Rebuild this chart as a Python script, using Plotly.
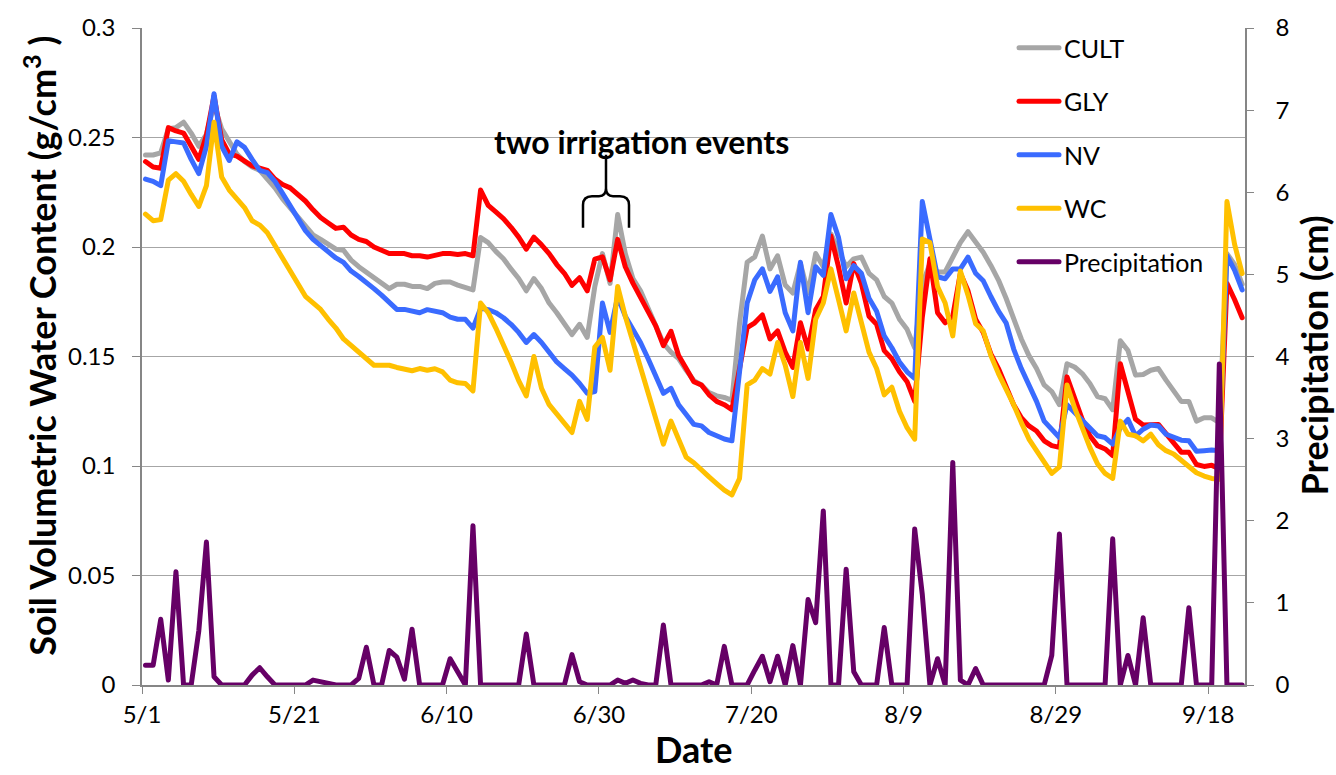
import pandas as pd
import plotly.graph_objects as go

# ---------------- data (daily readings, 5/1 .. 9/22) ----------------
dates = pd.date_range("2013-05-01 11:00", periods=145, freq="D")

cult = [0.242, 0.242, 0.243, 0.254, 0.2545, 0.257, 0.252, 0.246, 0.2515, 0.265,
        0.254, 0.248, 0.2425, 0.239, 0.2365, 0.235, 0.231, 0.227, 0.222, 0.218,
        0.2135, 0.2095, 0.2055, 0.2035, 0.201, 0.199, 0.1985, 0.194, 0.191, 0.1885,
        0.1855, 0.1835, 0.181, 0.183, 0.183, 0.182, 0.182, 0.181, 0.1834, 0.184,
        0.184, 0.1826, 0.1816, 0.1804, 0.2043, 0.202, 0.198, 0.1946, 0.190, 0.1856,
        0.180, 0.1856, 0.181, 0.1744, 0.170, 0.1654, 0.160, 0.1647, 0.1587, 0.182,
        0.197, 0.1834, 0.2148, 0.197, 0.1856, 0.180, 0.172, 0.164, 0.156, 0.152,
        0.149, 0.1437, 0.139, 0.137, 0.1335, 0.132, 0.1313, 0.130, 0.165, 0.193,
        0.1955, 0.205, 0.190, 0.196, 0.1826, 0.179, 0.1924, 0.179, 0.197, 0.191,
        0.206, 0.1984, 0.191, 0.1946, 0.1954, 0.188, 0.185, 0.1774, 0.1744, 0.167,
        0.1624, 0.154, 0.183, 0.1924, 0.1886, 0.1886, 0.1954, 0.202, 0.207, 0.202,
        0.1976, 0.1916, 0.1849, 0.1766, 0.1669, 0.158, 0.1504, 0.1445, 0.137, 0.134,
        0.128, 0.1467, 0.1452, 0.1422, 0.1377, 0.1317, 0.1307, 0.1257, 0.1572, 0.1527,
        0.1415, 0.1418, 0.1437, 0.1445, 0.1392, 0.134, 0.1295, 0.1295, 0.1205, 0.122,
        0.122, 0.1198, 0.197, 0.192, 0.183]

gly = [0.239, 0.2365, 0.236, 0.2545, 0.253, 0.252, 0.246, 0.240, 0.251, 0.269,
       0.249, 0.2425, 0.2415, 0.239, 0.237, 0.236, 0.235, 0.231, 0.2285, 0.227,
       0.224, 0.221, 0.217, 0.2135, 0.211, 0.2085, 0.209, 0.2055, 0.2035, 0.2025,
       0.200, 0.1985, 0.197, 0.197, 0.197, 0.196, 0.196, 0.1954, 0.196, 0.197,
       0.197, 0.1966, 0.197, 0.196, 0.226, 0.219, 0.216, 0.213, 0.209, 0.2045,
       0.199, 0.2045, 0.201, 0.197, 0.192, 0.188, 0.1825, 0.186, 0.180, 0.1945,
       0.1955, 0.185, 0.2035, 0.191, 0.1835, 0.1775, 0.1705, 0.164, 0.155, 0.1615,
       0.1505, 0.1445, 0.1385, 0.137, 0.1325, 0.1295, 0.128, 0.1257, 0.1445, 0.1632,
       0.1654, 0.169, 0.158, 0.1617, 0.152, 0.145, 0.1654, 0.1534, 0.1714, 0.1774,
       0.205, 0.1909, 0.1744, 0.1924, 0.1834, 0.1684, 0.1647, 0.1527, 0.149, 0.143,
       0.1385, 0.1295, 0.168, 0.1946, 0.170, 0.1654, 0.1684, 0.188, 0.180, 0.167,
       0.161, 0.1512, 0.1445, 0.1355, 0.128, 0.122, 0.1183, 0.116, 0.1115, 0.1093,
       0.1085, 0.1407, 0.131, 0.1213, 0.1138, 0.1093, 0.1078, 0.1048, 0.1467, 0.1332,
       0.1213, 0.1187, 0.119, 0.119, 0.1148, 0.1108, 0.1063, 0.1063, 0.1007, 0.0998,
       0.1003, 0.0988, 0.1834, 0.176, 0.1677]

nv = [0.231, 0.230, 0.228, 0.2485, 0.248, 0.2475, 0.240, 0.2335, 0.246, 0.270,
      0.246, 0.2395, 0.248, 0.2455, 0.240, 0.235, 0.234, 0.230, 0.2245, 0.219,
      0.2135, 0.2075, 0.2035, 0.2005, 0.1975, 0.195, 0.193, 0.189, 0.1865, 0.184,
      0.181, 0.178, 0.1745, 0.1715, 0.1715, 0.1705, 0.170, 0.1714, 0.1707, 0.170,
      0.168, 0.167, 0.167, 0.163, 0.172, 0.1714, 0.170, 0.1677, 0.1647, 0.161,
      0.1564, 0.160, 0.1564, 0.152, 0.1475, 0.1445, 0.1415, 0.1377, 0.1332, 0.134,
      0.1744, 0.161, 0.1774, 0.1684, 0.1624, 0.1564, 0.149, 0.1415, 0.1332, 0.1355,
      0.128, 0.1235, 0.119, 0.1183, 0.1153, 0.1138, 0.1123, 0.1115, 0.145, 0.1744,
      0.185, 0.190, 0.1797, 0.1864, 0.170, 0.1617, 0.193, 0.170, 0.191, 0.187,
      0.2148, 0.2043, 0.1855, 0.1915, 0.188, 0.1766, 0.1707, 0.1594, 0.154, 0.1475,
      0.143, 0.140, 0.2208, 0.2043, 0.1864, 0.1855, 0.190, 0.190, 0.1954, 0.188,
      0.1846, 0.1774, 0.1707, 0.1654, 0.1534, 0.1445, 0.137, 0.1295, 0.1205, 0.1168,
      0.113, 0.128, 0.1243, 0.1205, 0.1175, 0.1138, 0.113, 0.110, 0.1175, 0.1213,
      0.1138, 0.1168, 0.1187, 0.1183, 0.1145, 0.113, 0.1118, 0.1115, 0.1067, 0.107,
      0.1073, 0.107, 0.196, 0.1894, 0.1804]

wc = [0.215, 0.212, 0.2125, 0.2305, 0.2335, 0.230, 0.224, 0.2185, 0.228, 0.257,
      0.232, 0.226, 0.222, 0.218, 0.212, 0.210, 0.2065, 0.2005, 0.1945, 0.1885,
      0.1835, 0.1775, 0.1745, 0.1715, 0.167, 0.163, 0.158, 0.155, 0.152, 0.149,
      0.146, 0.146, 0.146, 0.145, 0.1445, 0.1435, 0.1445, 0.1437, 0.1444, 0.143,
      0.1392, 0.138, 0.1377, 0.1343, 0.1744, 0.170, 0.163, 0.1557, 0.1475, 0.139,
      0.132, 0.150, 0.1355, 0.128, 0.1235, 0.119, 0.1153, 0.1295, 0.1213, 0.1543,
      0.1587, 0.1437, 0.182, 0.1684, 0.1564, 0.1445, 0.1325, 0.122, 0.110, 0.1205,
      0.112, 0.104, 0.1015, 0.098, 0.095, 0.092, 0.089, 0.0868, 0.0943, 0.137,
      0.1392, 0.1445, 0.142, 0.1564, 0.146, 0.1317, 0.1564, 0.140, 0.167, 0.1744,
      0.190, 0.176, 0.1617, 0.179, 0.1654, 0.152, 0.1445, 0.1325, 0.136, 0.125,
      0.1175, 0.1123, 0.2036, 0.202, 0.1819, 0.1744, 0.1594, 0.189, 0.178, 0.165,
      0.1617, 0.1504, 0.1422, 0.1355, 0.128, 0.1198, 0.1123, 0.107, 0.1018, 0.0966,
      0.0996, 0.137, 0.1265, 0.1168, 0.1085, 0.101, 0.0966, 0.0943, 0.1205, 0.1145,
      0.1138, 0.1115, 0.1145, 0.1097, 0.107, 0.1055, 0.1025, 0.0996, 0.0969, 0.0954,
      0.0943, 0.094, 0.2208, 0.2013, 0.1879]

precip = [0.24, 0.24, 0.80, 0.06, 1.38, 0, 0, 0.66, 1.74, 0.10,
          0, 0, 0, 0, 0.12, 0.21, 0.10, 0, 0, 0,
          0, 0, 0.06, 0.04, 0.03, 0, 0, 0, 0.08, 0.46,
          0, 0, 0.42, 0.34, 0.07, 0.68, 0, 0, 0, 0,
          0.32, 0.16, 0, 1.94, 0, 0, 0, 0, 0, 0,
          0.62, 0, 0, 0, 0, 0, 0.37, 0.04, 0, 0,
          0, 0, 0.06, 0.02, 0.06, 0.02, 0, 0, 0.73, 0,
          0, 0, 0, 0, 0.04, 0, 0.47, 0, 0, 0,
          0.18, 0.35, 0.04, 0.35, 0, 0.48, 0, 1.04, 0.76, 2.12,
          0, 0, 1.41, 0.16, 0, 0, 0, 0.70, 0, 0,
          0, 1.90, 1.10, 0, 0.32, 0, 2.71, 0.06, 0, 0.20,
          0, 0, 0, 0, 0, 0, 0, 0, 0, 0.36,
          1.84, 0, 0, 0, 0, 0, 0, 1.78, 0, 0.36,
          0, 0.82, 0, 0, 0, 0, 0, 0.94, 0, 0,
          0, 3.91, 0, 0, 0]

series_names = ["CULT", "GLY", "NV", "WC"]
series_values = [cult, gly, nv, wc]
series_colors = ["#A6A6A6", "#FF0000", "#3A6BFF", "#FFC000"]
precip_color = "#660066"

x_tick_labels = ["5/1", "5/21", "6/10", "6/30", "7/20", "8/9", "8/29", "9/18"]

# ---------------- figure ----------------
FONT = "Lato"
fig = go.Figure()
for i, (name, vals, col) in enumerate(zip(series_names, series_values, series_colors)):
    fig.add_trace(go.Scatter(x=dates, y=vals, name=name, mode="lines",
                             line=dict(color=col, width=5), legendgroup=f"g{i}",
                             yaxis="y"))
fig.add_trace(go.Scatter(x=dates, y=precip, name="Precipitation", mode="lines",
                         line=dict(color=precip_color, width=5), legendgroup="g4",
                         yaxis="y2"))

L, R, T, B = 142, 91, 17, 90
W, H = 1336, 775
PW, PH = W - L - R, H - T - B


def pp(x, y):
    """pixel -> paper coordinates (for decorations only)"""
    return (x - L) / PW, (H - B - y) / PH


tick_vals = pd.date_range("2013-05-01", periods=len(x_tick_labels), freq="20D")
TICKFONT = dict(family=FONT, size=24, color="black")

fig.update_layout(
    width=W, height=H,
    margin=dict(l=L, r=R, t=T, b=B),
    paper_bgcolor="white", plot_bgcolor="white",
    font=dict(family=FONT, color="black"),
    showlegend=True,
    legend=dict(x=pp(1014, 0)[0], y=pp(0, 14)[1], xanchor="left", yanchor="top",
                bgcolor="rgba(0,0,0,0)", font=dict(family=FONT, size=25, color="black"),
                tracegroupgap=18, itemwidth=40),
    xaxis=dict(type="date",
               range=[pd.Timestamp("2013-05-01"), pd.Timestamp("2013-05-01") + pd.Timedelta(days=144.83)],
               tickmode="array", tickvals=tick_vals, ticktext=x_tick_labels,
               ticks="outside", ticklen=7, tickcolor="#868686", tickwidth=1.3,
               showline=True, linecolor="#868686", linewidth=1.5,
               showgrid=False, zeroline=False, tickfont=TICKFONT),
    yaxis=dict(range=[0, 0.3], dtick=0.05, tick0=0,
               ticks="outside", ticklen=8, tickcolor="#868686", tickwidth=1.3,
               showline=True, linecolor="#868686", linewidth=1.5,
               showgrid=True, gridcolor="#A6A6A6", gridwidth=1.3, zeroline=False,
               tickfont=TICKFONT, ticklabelstandoff=12),
    yaxis2=dict(range=[0, 8], dtick=1, tick0=0, overlaying="y", side="right",
                ticks="outside", ticklen=7, tickcolor="#868686", tickwidth=1.3,
                showline=True, linecolor="#868686", linewidth=1.5,
                showgrid=False, zeroline=False,
                tickfont=TICKFONT, ticklabelstandoff=17),
)

# axis titles
ax_title_font = dict(family=FONT, size=36, color="black", weight="bold")
fig.add_annotation(text="Date", xref="paper", yref="paper", x=pp(693, 0)[0], y=pp(0, 750)[1],
                   showarrow=False, xanchor="center", yanchor="middle", font=ax_title_font)
fig.add_annotation(text="Soil Volumetric Water Content (g/cm<sup>3</sup> )", xref="paper", yref="paper",
                   x=pp(40, 0)[0], y=pp(0, 340)[1], textangle=-90,
                   showarrow=False, xanchor="center", yanchor="middle", font=ax_title_font)
fig.add_annotation(text="Precipitation (cm)", xref="paper", yref="paper",
                   x=pp(1314, 0)[0], y=pp(0, 350)[1], textangle=-90,
                   showarrow=False, xanchor="center", yanchor="middle", font=ax_title_font)

# irrigation annotation + brace
fig.add_annotation(text="two irrigation events", xref="paper", yref="paper",
                   x=pp(641, 0)[0], y=pp(0, 132)[1], showarrow=False,
                   xanchor="center", yanchor="middle",
                   font=dict(family=FONT, size=32, color="black", weight="bold"))

brace_pts = [("M", 583, 220), ("L", 583, 197), ("Q", 583, 188, 592, 188), ("L", 599, 188),
             ("Q", 606, 188, 606, 180), ("L", 606, 146),
             ("M", 606, 180), ("Q", 606, 188, 613, 188), ("L", 620, 188),
             ("Q", 629, 188, 629, 197), ("L", 629, 220)]
parts = []
for p in brace_pts:
    cmd = p[0]
    coords = p[1:]
    s = []
    for k in range(0, len(coords), 2):
        px, py = pp(coords[k], coords[k + 1])
        s.append(f"{px:.5f},{py:.5f}")
    parts.append(cmd + " " + " ".join(s))
fig.add_shape(type="path", path=" ".join(parts), xref="paper", yref="paper",
              line=dict(color="black", width=2.5))

fig.write_html("out.html",
               post_script="document.querySelectorAll('path.js-line').forEach(function(p){p.style.strokeLinejoin='round';p.style.strokeLinecap='round';});")
